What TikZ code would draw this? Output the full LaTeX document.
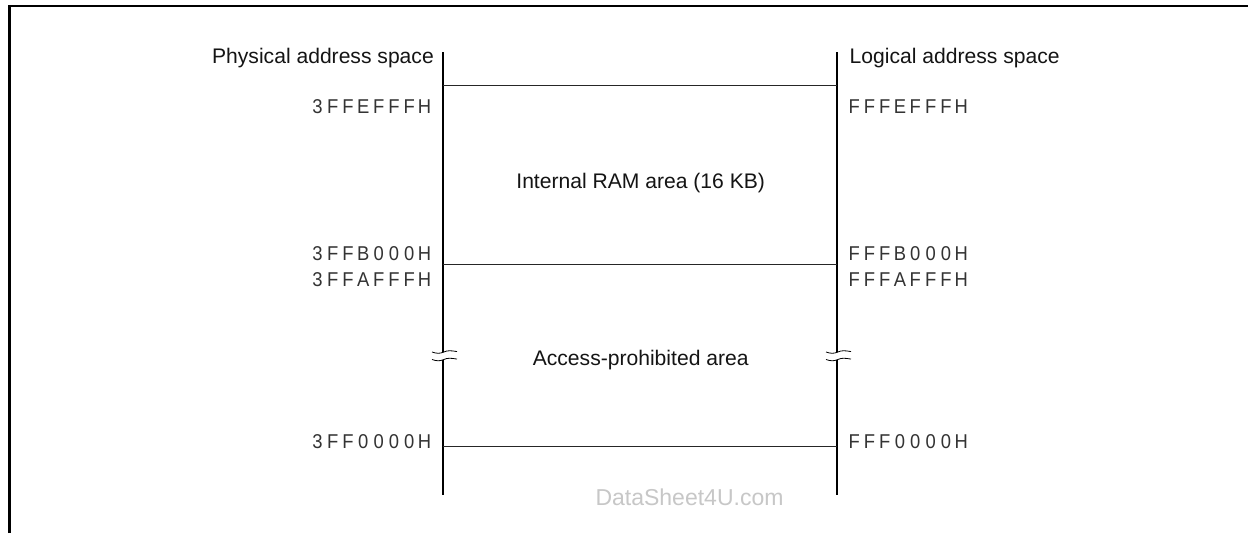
\documentclass[tikz,border=0pt]{standalone}
\usepackage{fontspec}
\setmainfont{Liberation Sans}
\newfontfamily\hexfont[FakeStretch=0.92]{Liberation Sans}
\def\hexword#1{\hexnext#1\relax}
\def\hexnext#1{\ifx#1\relax\else\makebox[15.3pt]{#1}\expandafter\hexnext\fi}
\begin{document}
\begin{tikzpicture}[x=1pt,y=-1pt,
  label text/.style={font=\fontsize{21.1}{25}\selectfont,text=black!92,inner sep=0pt},
  addr/.style={font=\hexfont\fontsize{20}{23}\selectfont,text=black!80,inner sep=0pt},
  axis/.style={line width=2.9pt},
  level/.style={line width=1pt,black!85},
  frame/.style={line width=2.8pt},
  brk/.style={line width=0.8pt}]
\useasboundingbox (0,0) rectangle (1248,533);
\fill[white] (0,0) rectangle (1248,533);
\coordinate (fa) at (9.5,533);
\coordinate (fb) at (9.5,6);
\coordinate (fc) at (1248,6);
\draw[frame] (fa) -- (fb) -- (fc);
% axes
\coordinate (lt) at (443,52);
\coordinate (lb1) at (443,352);
\coordinate (lb2) at (443,359.5);
\coordinate (le) at (443,495);
\coordinate (rt) at (837,52);
\coordinate (rb1) at (837,352);
\coordinate (rb2) at (837,359.5);
\coordinate (re) at (837,495);
\draw[axis] (lt) -- (lb1);
\draw[axis] (lb2) -- (le);
\draw[axis] (rt) -- (rb1);
\draw[axis] (rb2) -- (re);
% levels
\foreach \n/\y in {a/85.5,b/264.5,c/446.5}{
  \coordinate (l\n) at (443,\y);
  \coordinate (r\n) at (837,\y);
  \draw[level] (l\n) -- (r\n);
}
% breaks
\foreach \c in {lb1,lb2,rb1,rb2}{
  \draw[brk] ([shift={(-11,0)}]\c) .. controls ([shift={(-6,1.8)}]\c) and ([shift={(-3,1.6)}]\c) .. ([shift={(1,0)}]\c)
     .. controls ([shift={(4,-1.6)}]\c) and ([shift={(8,-1.6)}]\c) .. ([shift={(14,-0.4)}]\c);
}
\node[label text,anchor=base east] (pas) at (434,63.5) {Physical address space};
\node[label text,anchor=base west] (las) at (849.5,63.5) {Logical address space};
\node[label text,anchor=base] (ram) at (640.7,188) {Internal RAM area (16 KB)};
\node[label text,anchor=base] (apa) at (640.7,365) {Access-prohibited area};
\node[addr,anchor=base west] (p1) at (309.6,113.3) {\hexword{3FFEFFFH}};
\node[addr,anchor=base west] (p2) at (309.6,260.7) {\hexword{3FFB000H}};
\node[addr,anchor=base west] (p3) at (309.6,286) {\hexword{3FFAFFFH}};
\node[addr,anchor=base west] (p4) at (309.6,448.3) {\hexword{3FF0000H}};
\node[addr,anchor=base west] (q1) at (846.3,113.3) {\hexword{FFFEFFFH}};
\node[addr,anchor=base west] (q2) at (846.3,260.7) {\hexword{FFFB000H}};
\node[addr,anchor=base west] (q3) at (846.3,286) {\hexword{FFFAFFFH}};
\node[addr,anchor=base west] (q4) at (846.3,448.3) {\hexword{FFF0000H}};
\node[font=\fontsize{23}{27}\selectfont,text=black!22,inner sep=0pt,anchor=base] (ds) at (689.5,505) {DataSheet4U.com};
\end{tikzpicture}
\end{document}
